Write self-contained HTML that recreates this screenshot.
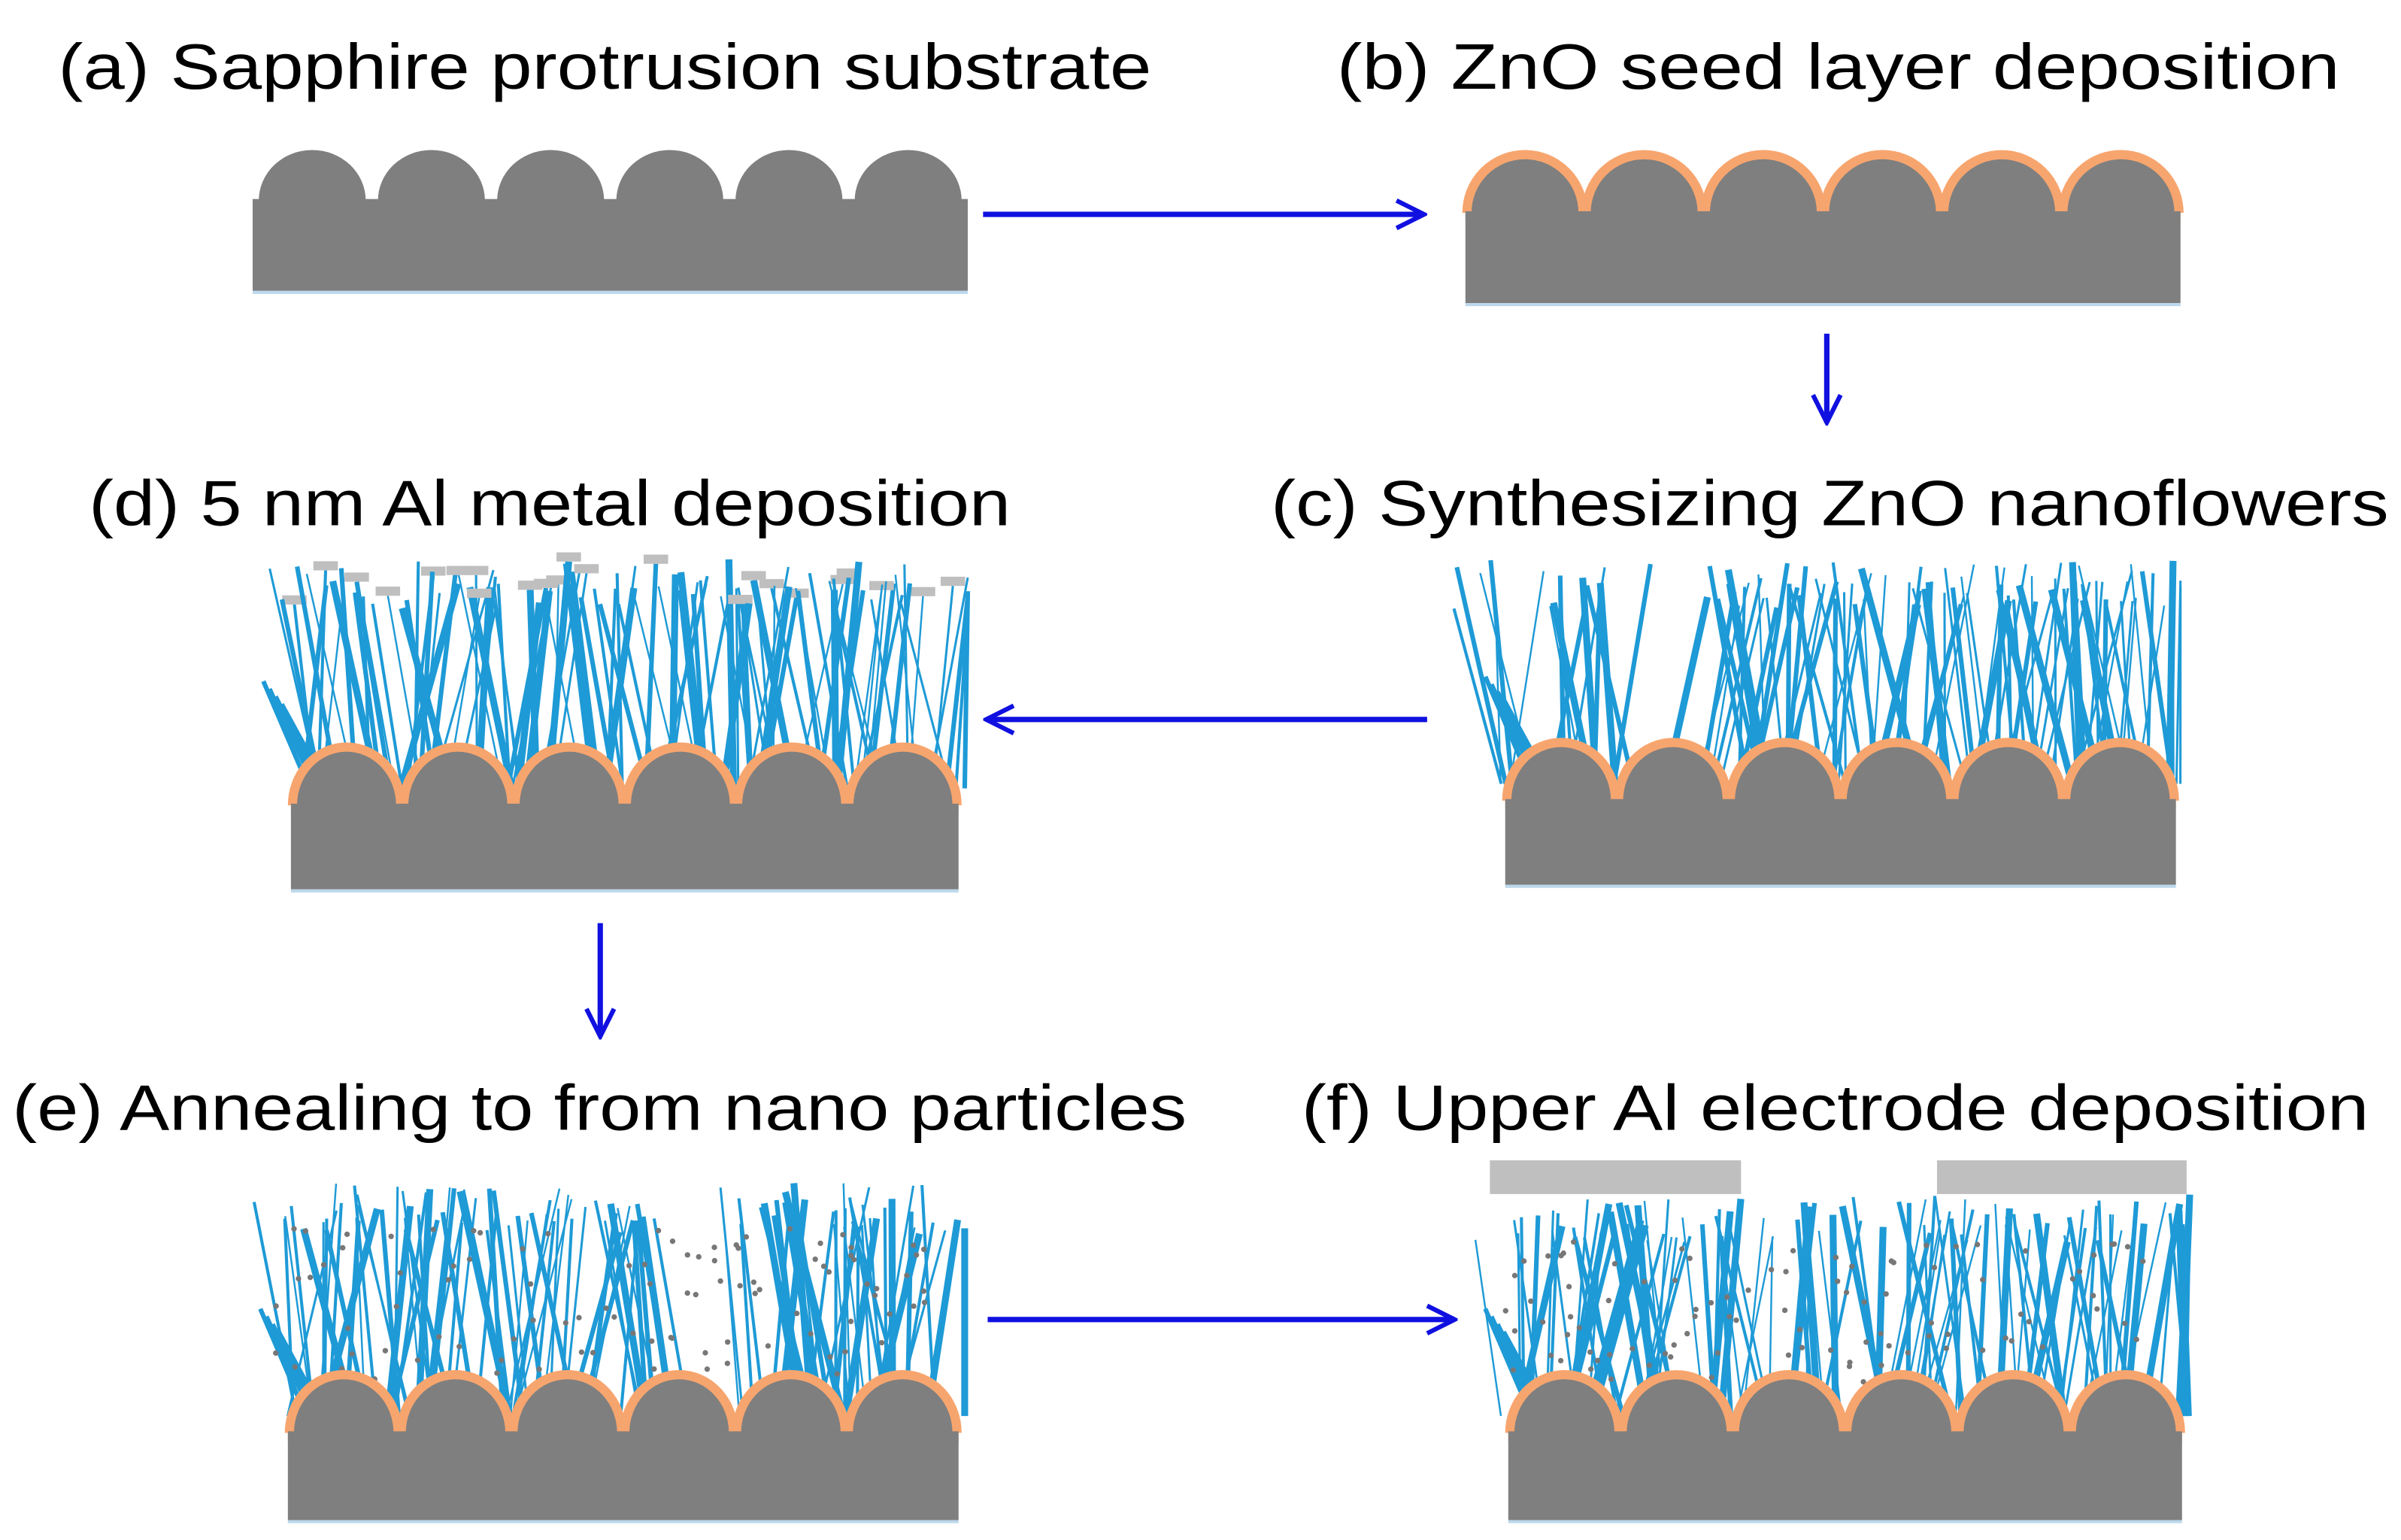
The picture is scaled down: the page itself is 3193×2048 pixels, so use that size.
<!DOCTYPE html>
<html><head><meta charset="utf-8"><style>
html,body{margin:0;padding:0;background:#fff;}
svg{display:block;}
text{font-family:"Liberation Sans",Arial,sans-serif;font-size:42px;fill:#000;}
</style></head><body>
<svg id="s" width="3193" height="2048" viewBox="0 0 1568 1006" preserveAspectRatio="none" xmlns="http://www.w3.org/2000/svg">
<defs>
<marker id="ah" markerWidth="22" markerHeight="22" refX="20" refY="11" orient="auto" markerUnits="userSpaceOnUse">
<path d="M2,2 L20,11 L2,20" fill="none" stroke="#1010e0" stroke-width="3"/>
</marker>
</defs>
<text x="38" y="58" textLength="714" lengthAdjust="spacingAndGlyphs">(a) Sapphire protrusion substrate</text>
<text x="873" y="58" textLength="655" lengthAdjust="spacingAndGlyphs">(b) ZnO seed  layer deposition</text>
<text x="58" y="343" textLength="602" lengthAdjust="spacingAndGlyphs">(d) 5 nm Al metal deposition</text>
<text x="830" y="343" textLength="730" lengthAdjust="spacingAndGlyphs">(c) Synthesizing ZnO nanoflowers</text>
<text x="8" y="738" textLength="767" lengthAdjust="spacingAndGlyphs">(e) Annealing to from nano particles</text>
<text x="850" y="738" textLength="697" lengthAdjust="spacingAndGlyphs">(f) Upper Al electrode deposition</text>
<g stroke="#1010e0" stroke-width="3.5" fill="none">
<line x1="642" y1="140" x2="930" y2="140" marker-end="url(#ah)"/>
<line x1="1193" y1="218" x2="1193" y2="276" marker-end="url(#ah)"/>
<line x1="932" y1="470" x2="644" y2="470" marker-end="url(#ah)"/>
<line x1="392" y1="603" x2="392" y2="677" marker-end="url(#ah)"/>
<line x1="645" y1="862" x2="950" y2="862" marker-end="url(#ah)"/>
</g>
<g id="g"></g>
</svg>
<script>
var g=document.getElementById('g'),NS='http://www.w3.org/2000/svg';
function el(t,a){var e=document.createElementNS(NS,t);for(var k in a)e.setAttribute(k,a[k]);g.appendChild(e);return e;}
var seed=11;function rnd(){seed=(seed*16807)%2147483647;return seed/2147483647;}
function domes(x0,x1,yb,h){var w=(x1-x0)/6,d='M'+x0+','+yb;for(var i=0;i<6;i++){var a=x0+i*w+4,b=x0+(i+1)*w-4;d+=' L'+a+','+yb+' A'+((b-a)/2)+','+h+' 0 0 1 '+b+','+yb;}d+=' L'+x1+','+yb;return d;}
function sub(x0,x1,yt,yb,h,orange){
 if(orange){el('path',{d:domes(x0,x1,yt+1,h),fill:'none',stroke:'#f7a56e','stroke-width':12,'stroke-linejoin':'round'});}
 el('path',{d:domes(x0,x1,yt+1,h)+' Z',fill:'#7f7f7f'});
 el('rect',{x:x0,y:yt,width:x1-x0,height:yb-yt,fill:'#7f7f7f'});
 el('line',{x1:x0,y1:yb+1,x2:x1,y2:yb+1,stroke:'#bcd8ec','stroke-width':2});
}
function wires(x0,x1,ytop,ybase,n,caps,dots){
 for(var i=0;i<n;i++){var x=x0+20+rnd()*(x1-x0-20);var ang=(rnd()-0.5)*0.55;
  var len=(ybase-ytop)*(0.8+rnd()*0.2);var xt=x+Math.sin(ang)*len,yt=ybase-len*Math.cos(ang);
  if(xt>x1)xt=x1;
  var w=[1.2,1.5,2,3,4.5][Math.floor(rnd()*5)];
  el('line',{x1:x,y1:ybase,x2:xt,y2:yt,stroke:'#1e9ad6','stroke-width':w});
  if(caps&&rnd()<0.2)el('rect',{x:xt-8,y:yt-6,width:16,height:6,fill:'#bfbfbf'});
 }
 for(var k=0;k<4;k++){var x=x0+10+k*4;el('line',{x1:x+30,y1:ybase,x2:x,y2:ybase-70+k*5,stroke:'#1e9ad6','stroke-width':3});}
 if(dots)for(var j=0;j<100;j++){el('circle',{cx:x0+20+rnd()*(x1-x0-40),cy:ytop+30+rnd()*(ybase-ytop-50),r:1.8,fill:'#777'});}
}
sub(165,632,130,190,33,false);
sub(957,1424,138,198,35,true);
wires(960,1424,365,512,110,false,false);sub(983,1421,522,578,35,true);
wires(162,632,365,515,110,true,false);sub(190,626,525,581,35,true);
wires(160,630,772,925,110,false,true);sub(188,626,935,993,35,true);
wires(960,1430,780,925,110,false,true);sub(985,1425,935,993,35,true);
el('rect',{x:973,y:758,width:164,height:22,fill:'#bfbfbf'});
el('rect',{x:1265,y:758,width:163,height:22,fill:'#bfbfbf'});
</script>
</body></html>
